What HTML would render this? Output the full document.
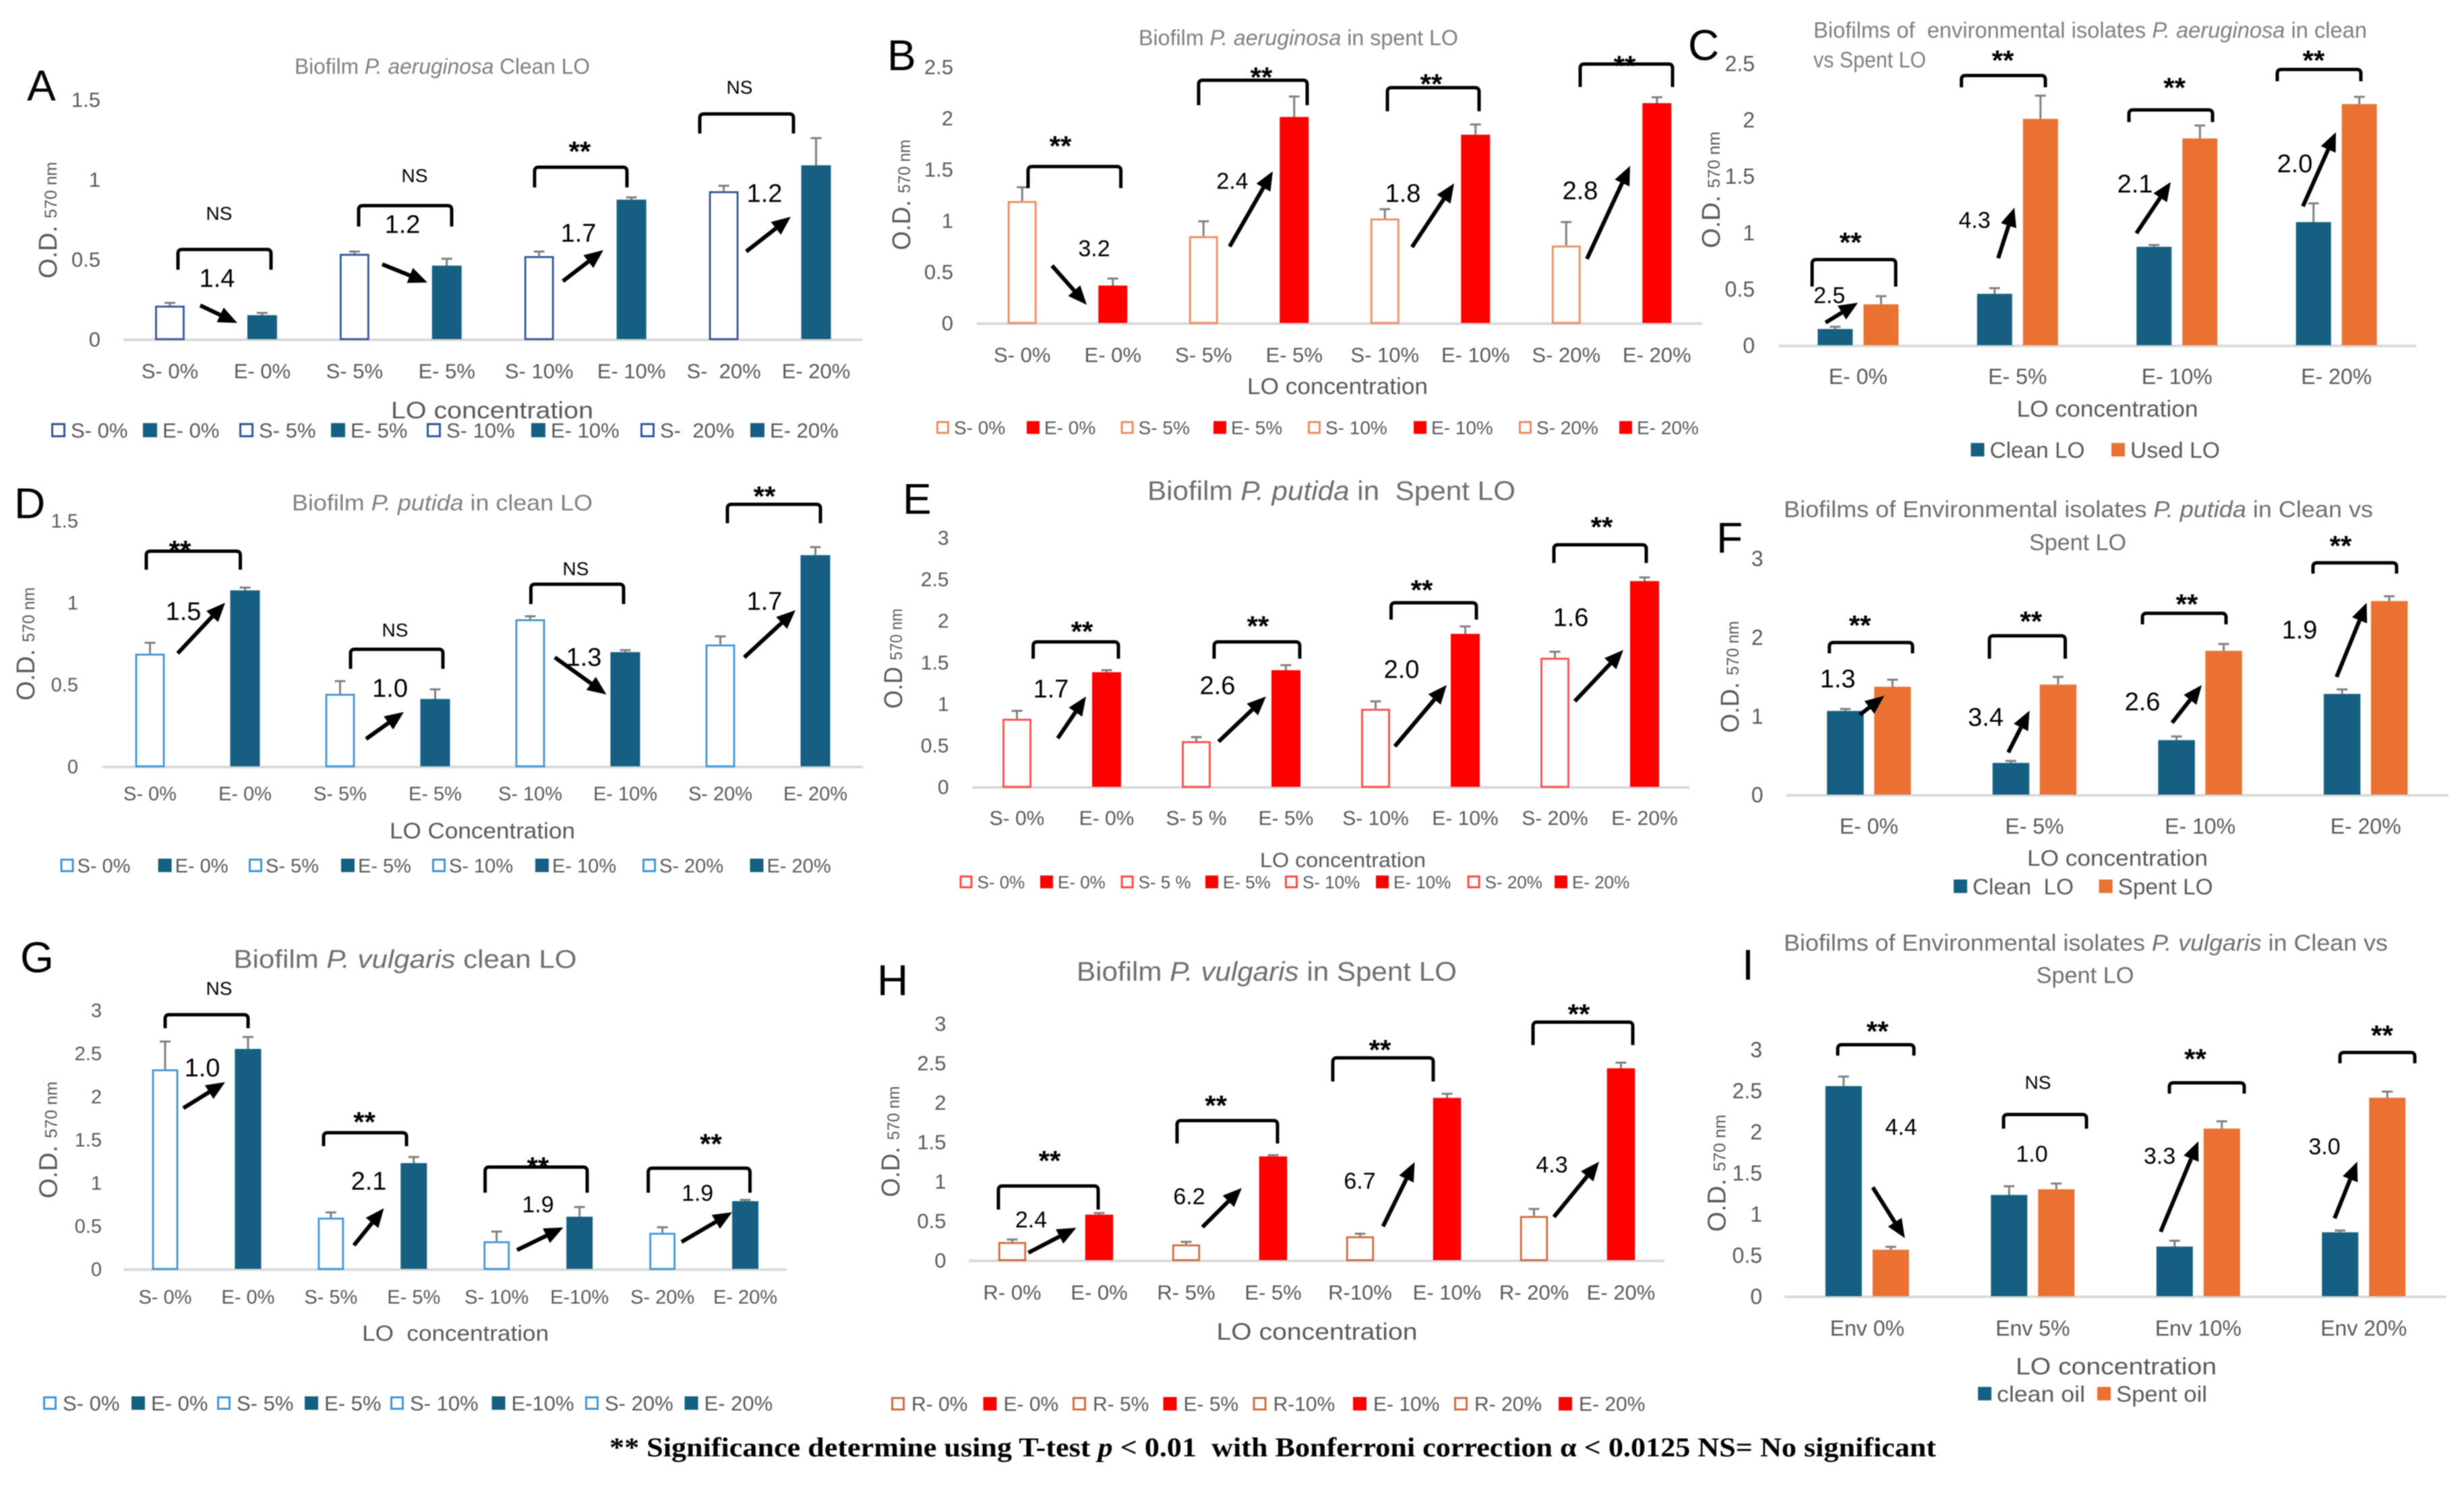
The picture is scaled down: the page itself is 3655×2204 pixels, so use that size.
<!DOCTYPE html>
<html lang="en">
<head>
<meta charset="utf-8">
<title>Biofilm formation in clean and spent lubricating oil</title>
<style>
html,body{margin:0;padding:0;background:#fff;}
#figure{display:block;width:3655px;height:2204px;background:#fff;filter:blur(.8px);}
text{font-family:"Liberation Sans",sans-serif;white-space:pre;}
</style>
</head>
<body>
<svg id="figure" xmlns="http://www.w3.org/2000/svg" width="3655" height="2204" viewBox="0 0 3655 2204">
<text x="2872" y="2160" text-anchor="end" textLength="1968" lengthAdjust="spacingAndGlyphs" font-size="40" font-weight="bold" fill="#000" style="font-family:'Liberation Serif',serif">** Significance determine using T-test <tspan font-style="italic">p</tspan> &lt; 0.01  with Bonferroni correction α &lt; 0.0125 NS= No significant</text>
</svg>
<script>
/* ---------- chart data ---------- */
const panelATicks = [0, 0.5, 1, 1.5];
const panelACategories = ["S- 0%", "E- 0%", "S- 5%", "E- 5%", "S- 10%", "E- 10%", "S-  20%", "E- 20%"];
const panelAValues = [0.21, 0.15, 0.534, 0.46, 0.52, 0.873, 0.926, 1.088];
const panelAErrors = [0.017, 0.014, 0.014, 0.043, 0.028, 0.014, 0.034, 0.17];

const panelBTicks = [0, 0.5, 1, 1.5, 2, 2.5];
const panelBCategories = ["S- 0%", "E- 0%", "S- 5%", "E- 5%", "S- 10%", "E- 10%", "S- 20%", "E- 20%"];
const panelBValues = [1.19, 0.365, 0.847, 2.01, 1.02, 1.837, 0.756, 2.145];
const panelBErrors = [0.134, 0.068, 0.145, 0.2, 0.09, 0.1, 0.228, 0.057];

const panelCTicks = [0, 0.5, 1, 1.5, 2, 2.5];
const panelCCategories = ["E- 0%", "E- 5%", "E- 10%", "E- 20%"];
const panelCSeriesNames = ["Clean LO", "Used LO"];
const panelCClean = [0.144, 0.456, 0.873, 1.092];
const panelCCleanErrors = [0.02, 0.05, 0.016, 0.166];
const panelCUsed = [0.363, 2.008, 1.834, 2.139];
const panelCUsedErrors = [0.072, 0.206, 0.115, 0.064];

const panelDTicks = [0, 0.5, 1, 1.5];
const panelDCategories = ["S- 0%", "E- 0%", "S- 5%", "E- 5%", "S- 10%", "E- 10%", "S- 20%", "E- 20%"];
const panelDValues = [0.688, 1.074, 0.443, 0.411, 0.898, 0.697, 0.744, 1.289];
const panelDErrors = [0.066, 0.017, 0.077, 0.059, 0.018, 0.012, 0.049, 0.049];

const panelETicks = [0, 0.5, 1, 1.5, 2, 2.5, 3];
const panelECategories = ["S- 0%", "E- 0%", "S- 5 %", "E- 5%", "S- 10%", "E- 10%", "S- 20%", "E- 20%"];
const panelEValues = [0.819, 1.379, 0.55, 1.403, 0.939, 1.84, 1.553, 2.475];
const panelEErrors = [0.095, 0.024, 0.048, 0.061, 0.089, 0.089, 0.072, 0.044];

const panelFTicks = [0, 1, 2, 3];
const panelFCategories = ["E- 0%", "E- 5%", "E- 10%", "E- 20%"];
const panelFSeriesNames = ["Clean  LO", "Spent LO"];
const panelFClean = [1.063, 0.403, 0.692, 1.279];
const panelFCleanErrors = [0.025, 0.025, 0.047, 0.058];
const panelFSpent = [1.37, 1.398, 1.826, 2.458];
const panelFSpentErrors = [0.09, 0.097, 0.087, 0.061];

const panelGTicks = [0, 0.5, 1, 1.5, 2, 2.5, 3];
const panelGCategories = ["S- 0%", "E- 0%", "S- 5%", "E- 5%", "S- 10%", "E-10%", "S- 20%", "E- 20%"];
const panelGValues = [2.313, 2.549, 0.594, 1.226, 0.321, 0.605, 0.419, 0.785];
const panelGErrors = [0.322, 0.138, 0.06, 0.071, 0.112, 0.112, 0.063, 0.015];

const panelHTicks = [0, 0.5, 1, 1.5, 2, 2.5, 3];
const panelHCategories = ["R- 0%", "E- 0%", "R- 5%", "E- 5%", "R-10%", "E- 10%", "R- 20%", "E- 20%"];
const panelHValues = [0.23, 0.577, 0.2, 1.315, 0.303, 2.057, 0.56, 2.432];
const panelHErrors = [0.032, 0.02, 0.032, 0.016, 0.032, 0.052, 0.089, 0.072];

const panelITicks = [0, 0.5, 1, 1.5, 2, 2.5, 3];
const panelICategories = ["Env 0%", "Env 5%", "Env 10%", "Env 20%"];
const panelISeriesNames = ["clean oil", "Spent oil"];
const panelIClean = [2.555, 1.231, 0.604, 0.777];
const panelICleanErrors = [0.115, 0.106, 0.07, 0.022];
const panelISpent = [0.565, 1.3, 2.038, 2.413];
const panelISpentErrors = [0.035, 0.07, 0.088, 0.075];

/* ---------- helpers ---------- */
const NS = "http://www.w3.org/2000/svg";
const root = document.getElementById("figure");

function make(parent, tag, name, attrs) {
  const el = document.createElementNS(NS, tag);
  
  
  for (const k in attrs) el.setAttribute(k, attrs[k]);
  parent.appendChild(el);
  return el;
}
/* y is the vertical centre of the capitals */
function label(parent, name, x, y, str, size, opts) {
  const o = opts || {};
  const a = {x: x, y: y + size * 0.358, "font-size": size, fill: o.fill || "#595959", "text-anchor": o.anchor || "middle"};
  if (o.weight) a["font-weight"] = o.weight;
  if (o.width) { a.textLength = o.width; a.lengthAdjust = "spacingAndGlyphs"; }
  const el = make(parent, "text", name, a);
  el.textContent = str;
  return el;
}
function richTitle(parent, name, x, y, parts, size, width, fill, anchor) {
  const el = make(parent, "text", name, {x: x, y: y + size * 0.358, "font-size": size, fill: fill || "#6e6e6e", "text-anchor": anchor || "start", textLength: width, lengthAdjust: "spacingAndGlyphs"});
  parts.forEach(function (p, i) {
    const t = document.createElementNS(NS, "tspan");
    if (i % 2 === 1) t.setAttribute("font-style", "italic");
    t.textContent = p;
    el.appendChild(t);
  });
  return el;
}
function panelLetter(parent, x, baseline, letter) {
  const el = make(parent, "text", "panel-letter-" + letter.toLowerCase(), {x: x, y: baseline, "font-size": 64, fill: "#000"});
  el.textContent = letter;
}
function yAxisTitle(parent, cx, bottom, top, main) {
  const el = make(parent, "text", "y-axis-title", {transform: "translate(" + (cx + 14) + "," + bottom + ") rotate(-90)", "font-size": 38, fill: "#595959", textLength: bottom - top, lengthAdjust: "spacingAndGlyphs"});
  const a = document.createElementNS(NS, "tspan");
  a.textContent = main + " ";
  const b = document.createElementNS(NS, "tspan");
  b.setAttribute("font-size", "25");
  b.textContent = "570 nm";
  el.appendChild(a);
  el.appendChild(b);
}
function bracket(parent, x1, x2, top, bottom) {
  const r = 6;
  make(parent, "path", "significance-bracket", {d: "M" + x1 + " " + bottom + "V" + (top + r) + "Q" + x1 + " " + top + " " + (x1 + r) + " " + top + "H" + (x2 - r) + "Q" + x2 + " " + top + " " + x2 + " " + (top + r) + "V" + bottom, fill: "none", stroke: "#000", "stroke-width": 5});
}
function stars(parent, x, y) {
  const el = make(parent, "text", "significance-stars", {x: x, y: y + 24, "font-size": 42, "font-weight": "bold", fill: "#000", "text-anchor": "middle"});
  el.textContent = "**";
}
function nonSig(parent, x, y) {
  label(parent, "not-significant-label", x, y, "NS", 28, {fill: "#000"});
}
function fold(parent, x, y, str, size) {
  label(parent, "fold-change-label", x, y, str, size || 38, {fill: "#000"});
}
function arrow(parent, x1, y1, x2, y2) {
  const dx = x2 - x1, dy = y2 - y1, len = Math.hypot(dx, dy), ux = dx / len, uy = dy / len;
  const bx = x2 - ux * 28, by = y2 - uy * 28;
  make(parent, "line", "fold-change-arrow", {x1: x1, y1: y1, x2: bx, y2: by, stroke: "#000", "stroke-width": 6});
  const pts = x2 + "," + y2 + " " + (bx - uy * 12) + "," + (by + ux * 12) + " " + (bx + uy * 12) + "," + (by - ux * 12);
  make(parent, "polygon", "fold-change-arrowhead", {points: pts, fill: "#000"});
}

/* axis functions */
function yScale(cfg, v) { return cfg.base - v * cfg.unit; }
function bandCenter(cfg, i, n) { return cfg.x0 + (i + 0.5) * (cfg.x1 - cfg.x0) / n; }

function drawBar(parent, cfg, cx, w, v, e, style) {
  const top = yScale(cfg, v), errTop = yScale(cfg, v + e);
  make(parent, "line", "error-bar", {x1: cx, x2: cx, y1: top, y2: errTop, stroke: "#7f7f7f", "stroke-width": 3});
  make(parent, "line", "error-bar-cap", {x1: cx - 8, x2: cx + 8, y1: errTop, y2: errTop, stroke: "#7f7f7f", "stroke-width": 3});
  if (style.outline) {
    make(parent, "rect", "bar-outline", {x: cx - w / 2 + 1.5, y: top + 1.5, width: w - 3, height: cfg.base - top - 1.5, fill: "#fff", stroke: style.outline, "stroke-width": 2.8});
  } else {
    make(parent, "rect", "bar-filled", {x: cx - w / 2, y: top, width: w, height: cfg.base - top, fill: style.fill});
  }
}
function drawAxes(parent, cfg, ticks) {
  ticks.forEach(function (t) {
    label(parent, "y-tick-label", cfg.tickX, yScale(cfg, t), String(t), cfg.tickFont, {anchor: "end"});
  });
  make(parent, "line", "x-axis-line", {x1: cfg.x0, x2: cfg.x1, y1: cfg.base + 1, y2: cfg.base + 1, stroke: "#d9d9d9", "stroke-width": 4});
}
/* eight bars: open (control) and filled (environmental) alternate */
function drawAlternating(parent, cfg, categories, values, errors, ticks, openColor, fillColor) {
  drawAxes(parent, cfg, ticks);
  values.forEach(function (v, i) {
    const cx = bandCenter(cfg, i, values.length);
    drawBar(parent, cfg, cx, cfg.barW, v, errors[i], i % 2 === 0 ? {outline: openColor} : {fill: fillColor});
    label(parent, "x-tick-label", cx, cfg.xLabelY, categories[i], cfg.tickFont);
  });
  cfg.legendX.forEach(function (x, i) {
    const s = cfg.swatch;
    if (i % 2 === 0) {
      make(parent, "rect", "legend-swatch-open", {x: x + 1.5, y: cfg.legendY - s / 2 + 1.5, width: s - 3, height: s - 3, fill: "#fff", stroke: openColor, "stroke-width": 3});
    } else {
      make(parent, "rect", "legend-swatch-filled", {x: x, y: cfg.legendY - s / 2, width: s, height: s, fill: fillColor});
    }
    label(parent, "legend-entry", x + cfg.legendOffset, cfg.legendY, categories[i], cfg.legendFont, {anchor: "start"});
  });
}
/* four groups of two filled bars */
function drawPaired(parent, cfg, categories, seriesNames, first, firstErr, second, secondErr, ticks) {
  drawAxes(parent, cfg, ticks);
  categories.forEach(function (c, i) {
    const cx = bandCenter(cfg, i, categories.length), off = (cfg.barW + cfg.gap) / 2;
    drawBar(parent, cfg, cx - off, cfg.barW, first[i], firstErr[i], {fill: "#156082"});
    drawBar(parent, cfg, cx + off, cfg.barW, second[i], secondErr[i], {fill: "#e97132"});
    label(parent, "x-tick-label", cx, cfg.xLabelY, c, cfg.tickFont);
  });
  const colors = ["#156082", "#e97132"];
  cfg.legendX.forEach(function (x, i) {
    make(parent, "rect", "legend-swatch", {x: x, y: cfg.legendY - 10, width: 20, height: 20, fill: colors[i]});
    label(parent, "legend-entry", x + 28, cfg.legendY, seriesNames[i], cfg.legendFont, {anchor: "start", width: cfg.legendW[i]});
  });
}

const NAVY = "#2f5597", TEAL = "#156082", RED = "#ff0000", ORANGEOPEN = "#f08a5d", BLUEOPEN = "#3f95d6", REDOPEN = "#ff4a4a", RUST = "#cf6a3c";

/* ---------- panel A ---------- */
const gA = make(root, "g", "panel-a-clean-aeruginosa", {});
drawAlternating(gA, {x0: 183.5, x1: 1279, base: 503, unit: 237, tickX: 149, tickFont: 31, barW: 44, xLabelY: 550, legendY: 638, swatch: 21, legendFont: 31, legendOffset: 29, legendX: [76, 212, 355, 491, 633, 788, 950, 1113]}, panelACategories, panelAValues, panelAErrors, panelATicks, NAVY, TEAL);
panelLetter(gA, 40, 149, "A");
richTitle(gA, "chart-title", 437, 98, ["Biofilm ", "P. aeruginosa", " Clean LO"], 32, 438, "#7f7f7f");
yAxisTitle(gA, 70, 413, 240, "O.D.");
label(gA, "x-axis-title", 730, 608, "LO concentration", 35, {width: 300});
bracket(gA, 264, 402, 370, 400); nonSig(gA, 325, 316); fold(gA, 322, 412, "1.4"); arrow(gA, 297, 453, 352, 479);
bracket(gA, 532, 670, 305, 336); nonSig(gA, 615, 260); fold(gA, 597, 332, "1.2"); arrow(gA, 567, 392, 634, 419);
bracket(gA, 793, 930, 248, 278); stars(gA, 860, 215); fold(gA, 858, 345, "1.7"); arrow(gA, 835, 417, 895, 371);
bracket(gA, 1038, 1177, 169, 198); nonSig(gA, 1097, 129); fold(gA, 1134, 286, "1.2"); arrow(gA, 1107, 373, 1173, 321.5);

/* ---------- panel B ---------- */
const gB = make(root, "g", "panel-b-spent-aeruginosa", {});
drawAlternating(gB, {x0: 1449, x1: 2525, base: 479, unit: 152, tickX: 1414, tickFont: 31, barW: 43, xLabelY: 526, legendY: 634, swatch: 19, legendFont: 28, legendOffset: 26, legendX: [1389, 1523, 1662.6, 1800, 1940, 2097, 2253, 2402]}, panelBCategories, panelBValues, panelBErrors, panelBTicks, ORANGEOPEN, RED);
panelLetter(gB, 1316, 104, "B");
richTitle(gB, "chart-title", 1689, 55.5, ["Biofilm ", "P. aeruginosa", " in spent LO"], 32, 474, "#7f7f7f");
yAxisTitle(gB, 1336, 371, 207, "O.D.");
label(gB, "x-axis-title", 1984, 572.5, "LO concentration", 34, {width: 268});
bracket(gB, 1525, 1662.6, 247, 279); stars(gB, 1573, 207); fold(gB, 1623, 368, "3.2", 34); arrow(gB, 1560.5, 394, 1612, 452);
bracket(gB, 1778, 1939, 119, 156); stars(gB, 1871, 105); fold(gB, 1828, 268, "2.4", 34); arrow(gB, 1824, 365.6, 1888, 254);
bracket(gB, 2058, 2194, 130, 165); stars(gB, 2123, 115); fold(gB, 2081, 286, "1.8"); arrow(gB, 2094.5, 366.5, 2157, 272);
bracket(gB, 2344, 2481, 95, 129); stars(gB, 2410, 88); fold(gB, 2344, 282, "2.8"); arrow(gB, 2354, 384, 2418, 246);

/* ---------- panel C ---------- */
const gC = make(root, "g", "panel-c-environmental-aeruginosa", {});
drawPaired(gC, {x0: 2638, x1: 3584, base: 512, unit: 167.2, tickX: 2603, tickFont: 32, barW: 52, gap: 16, xLabelY: 558, legendY: 667, legendFont: 33, legendW: [141, 133], legendX: [2923.5, 3132]}, panelCCategories, panelCSeriesNames, panelCClean, panelCCleanErrors, panelCUsed, panelCUsedErrors, panelCTicks);
panelLetter(gC, 2504, 89, "C");
richTitle(gC, "chart-title-line-1", 2690, 44, ["Biofilms of  environmental isolates ", "P. aeruginosa", " in clean"], 33, 821, "#7f7f7f");
richTitle(gC, "chart-title-line-2", 2690, 88, ["vs Spent LO"], 33, 167, "#7f7f7f");
yAxisTitle(gC, 2537, 368, 195, "O.D.");
label(gC, "x-axis-title", 3126, 606, "LO concentration", 34, {width: 269});
bracket(gC, 2688, 2812, 385, 425); stars(gC, 2745, 350); fold(gC, 2713.6, 437.5, "2.5", 34); arrow(gC, 2708, 478.5, 2756, 449);
bracket(gC, 2909.5, 3034, 112, 129.5); stars(gC, 2971, 80); fold(gC, 2929, 326, "4.3", 34); arrow(gC, 2964, 383, 2988, 308);
bracket(gC, 3158, 3282, 163, 181); stars(gC, 3225.6, 120.5); fold(gC, 3167, 272, "2.1"); arrow(gC, 3169, 346, 3220, 270);
bracket(gC, 3378, 3502, 103, 120.5); stars(gC, 3432, 80); fold(gC, 3404, 242, "2.0"); arrow(gC, 3416, 306, 3465, 196);

/* ---------- panel D ---------- */
const gD = make(root, "g", "panel-d-clean-putida", {});
drawAlternating(gD, {x0: 152, x1: 1280, base: 1136.6, unit: 243, tickX: 116, tickFont: 29, barW: 44, xLabelY: 1176.6, legendY: 1283.5, swatch: 20, legendFont: 29, legendOffset: 25, legendX: [89.5, 234.6, 369, 506, 641, 794, 953, 1112.5]}, panelDCategories, panelDValues, panelDErrors, panelDTicks, BLUEOPEN, TEAL);
panelLetter(gD, 21, 768.5, "D");
richTitle(gD, "chart-title", 433, 745, ["Biofilm ", "P. putida", " in clean LO"], 33, 446, "#7f7f7f");
yAxisTitle(gD, 37, 1039, 871, "O.D.");
label(gD, "x-axis-title", 715.5, 1231.6, "LO Concentration", 33, {width: 275});
bracket(gD, 217, 356.5, 817.5, 845); stars(gD, 267, 807); fold(gD, 272, 906, "1.5"); arrow(gD, 263.6, 969, 334, 894);
bracket(gD, 520, 657, 963, 992); nonSig(gD, 586, 934); fold(gD, 578.6, 1020, "1.0"); arrow(gD, 543, 1096, 599, 1056);
bracket(gD, 787.5, 925, 866.5, 896); nonSig(gD, 854, 843); fold(gD, 866, 974, "1.3"); arrow(gD, 823, 975, 899.5, 1030);
bracket(gD, 1079, 1217, 748, 776); stars(gD, 1134, 726.5); fold(gD, 1134, 891, "1.7"); arrow(gD, 1104, 975, 1180, 905);

/* ---------- panel E ---------- */
const gE = make(root, "g", "panel-e-spent-putida", {});
drawAlternating(gE, {x0: 1442, x1: 2506, base: 1167, unit: 123.3, tickX: 1407.5, tickFont: 30, barW: 43, xLabelY: 1213, legendY: 1308, swatch: 19, legendFont: 26, legendOffset: 26, legendX: [1423.5, 1543, 1662.6, 1788, 1906, 2041, 2176.6, 2306]}, panelECategories, panelEValues, panelEErrors, panelETicks, REDOPEN, RED);
panelLetter(gE, 1339, 762, "E");
richTitle(gE, "chart-title", 1702, 727, ["Biofilm ", "P. putida", " in  Spent LO"], 40, 546);
yAxisTitle(gE, 1324, 1051, 902.6, "O.D");
label(gE, "x-axis-title", 1992, 1275, "LO concentration", 31, {width: 246});
bracket(gE, 1532.6, 1659, 952, 977); stars(gE, 1605, 927); fold(gE, 1559, 1021, "1.7"); arrow(gE, 1569, 1095, 1611, 1033);
bracket(gE, 1801, 1928, 952, 977); stars(gE, 1866, 919); fold(gE, 1806, 1016, "2.6"); arrow(gE, 1807.6, 1100, 1878, 1033);
bracket(gE, 2063.5, 2190, 894, 919); stars(gE, 2109, 865.5); fold(gE, 2079, 992, "2.0"); arrow(gE, 2069, 1107, 2146, 1016);
bracket(gE, 2305, 2442, 808, 835); stars(gE, 2376, 772); fold(gE, 2330, 915, "1.6"); arrow(gE, 2336, 1040, 2408, 964);

/* ---------- panel F ---------- */
const gF = make(root, "g", "panel-f-environmental-putida", {});
drawPaired(gF, {x0: 2649.5, x1: 3632, base: 1178.6, unit: 116.8, tickX: 2615.6, tickFont: 32, barW: 54.5, gap: 15.5, xLabelY: 1225, legendY: 1314.5, legendFont: 33, legendW: [150, 141], legendX: [2898, 3113.6]}, panelFCategories, panelFSeriesNames, panelFClean, panelFCleanErrors, panelFSpent, panelFSpentErrors, panelFTicks);
panelLetter(gF, 2546, 820, "F");
richTitle(gF, "chart-title-line-1", 2646, 755, ["Biofilms of Environmental isolates ", "P. putida", " in Clean vs"], 34, 874);
richTitle(gF, "chart-title-line-2", 3010, 804, ["Spent LO"], 34, 144);
yAxisTitle(gF, 2565, 1087, 921, "O.D.");
label(gF, "x-axis-title", 3141, 1272, "LO concentration", 33, {width: 268});
bracket(gF, 2713.6, 2837, 953, 969); stars(gF, 2759, 918); fold(gF, 2726, 1006, "1.3"); arrow(gF, 2759, 1060, 2795, 1032);
bracket(gF, 2951, 3063.5, 943, 977); stars(gF, 3012.7, 912); fold(gF, 2945.6, 1063, "3.4"); arrow(gF, 2979, 1116, 3010.5, 1054);
bracket(gF, 3178, 3302, 909.6, 926); stars(gF, 3244, 886.5); fold(gF, 3178, 1040, "2.6"); arrow(gF, 3222, 1072, 3266, 1016);
bracket(gF, 3431, 3555, 834.7, 850.7); stars(gF, 3472, 800); fold(gF, 3411, 933.6, "1.9"); arrow(gF, 3466, 1004, 3510.6, 894);

/* ---------- panel G ---------- */
const gG = make(root, "g", "panel-g-clean-vulgaris", {});
drawAlternating(gG, {x0: 183.5, x1: 1167, base: 1882, unit: 128, tickX: 151, tickFont: 29, barW: 39, xLabelY: 1923, legendY: 2081, swatch: 20, legendFont: 31, legendOffset: 29, legendX: [64, 195, 322, 452, 579, 729.5, 868, 1015.5]}, panelGCategories, panelGValues, panelGErrors, panelGTicks, BLUEOPEN, TEAL);
panelLetter(gG, 30, 1442, "G");
richTitle(gG, "chart-title", 346.5, 1421.7, ["Biofilm ", "P. vulgaris", " clean LO"], 38, 509);
yAxisTitle(gG, 70.5, 1777.5, 1604, "O.D.");
label(gG, "x-axis-title", 675.6, 1977, "LO  concentration", 32, {width: 277});
bracket(gG, 245, 368, 1505, 1525); nonSig(gG, 325, 1465.7); fold(gG, 300, 1583, "1.0"); arrow(gG, 272, 1643.6, 334, 1605);
bracket(gG, 480, 603, 1680, 1700); stars(gG, 540.5, 1654.6); fold(gG, 547, 1751, "2.1"); arrow(gG, 525, 1847, 569.5, 1792);
bracket(gG, 719.6, 871, 1731, 1769); stars(gG, 798, 1721.5); fold(gG, 798, 1786, "1.9", 34); arrow(gG, 767, 1854, 835.6, 1820.5);
bracket(gG, 961.6, 1112.5, 1732.6, 1769); stars(gG, 1054.5, 1687); fold(gG, 1034.6, 1769, "1.9", 34); arrow(gG, 1011, 1842, 1086, 1798);

/* ---------- panel H ---------- */
const gH = make(root, "g", "panel-h-spent-vulgaris", {});
drawAlternating(gH, {x0: 1437, x1: 2469, base: 1869, unit: 117, tickX: 1403.5, tickFont: 31, barW: 41.5, xLabelY: 1916.5, legendY: 2082, swatch: 20, legendFont: 30, legendOffset: 30, legendX: [1322, 1458.5, 1591, 1725.5, 1858.6, 2007, 2157, 2312]}, panelHCategories, panelHValues, panelHErrors, panelHTicks, RUST, RED);
panelLetter(gH, 1301, 1476, "H");
richTitle(gH, "chart-title", 1597, 1440, ["Biofilm ", "P. vulgaris", " in Spent LO"], 40, 564);
yAxisTitle(gH, 1320, 1775.5, 1611, "O.D.");
label(gH, "x-axis-title", 1953.5, 1974.6, "LO concentration", 35, {width: 298});
bracket(gH, 1481, 1629, 1759, 1794); stars(gH, 1557, 1712); fold(gH, 1529.5, 1808.5, "2.4", 34); arrow(gH, 1525.5, 1858, 1596.5, 1821);
bracket(gH, 1746, 1895, 1662, 1696); stars(gH, 1803.6, 1630); fold(gH, 1764, 1774, "6.2", 34); arrow(gH, 1783.7, 1820, 1842, 1762);
bracket(gH, 1977, 2126, 1569, 1604); stars(gH, 2047, 1547.5); fold(gH, 2017, 1751, "6.7", 34); arrow(gH, 2051.5, 1819, 2098.5, 1723.5);
bracket(gH, 2274, 2422, 1516, 1550); stars(gH, 2342, 1494.7); fold(gH, 2302, 1727, "4.3", 34); arrow(gH, 2305, 1805, 2372, 1723);

/* ---------- panel I ---------- */
const gI = make(root, "g", "panel-i-environmental-vulgaris", {});
drawPaired(gI, {x0: 2647, x1: 3629, base: 1922.5, unit: 122, tickX: 2614, tickFont: 32, barW: 54, gap: 16, xLabelY: 1969.5, legendY: 2067, legendFont: 33, legendW: [131, 135], legendX: [2934, 3111]}, panelICategories, panelISeriesNames, panelIClean, panelICleanErrors, panelISpent, panelISpentErrors, panelITicks);
panelLetter(gI, 2584, 1453, "I");
richTitle(gI, "chart-title-line-1", 2646, 1397.7, ["Biofilms of Environmental isolates ", "P. vulgaris", " in Clean vs"], 34, 896);
richTitle(gI, "chart-title-line-2", 3020.5, 1446, ["Spent LO"], 34, 145);
yAxisTitle(gI, 2545.7, 1827, 1653, "O.D.");
label(gI, "x-axis-title", 3139, 2026, "LO concentration", 35, {width: 298});
bracket(gI, 2726, 2839, 1549.5, 1565.6); stars(gI, 2785, 1520); fold(gI, 2820, 1671, "4.4", 34); arrow(gI, 2778, 1761, 2825.6, 1836.4);
bracket(gI, 2972, 3095, 1653, 1674); nonSig(gI, 3023, 1605); fold(gI, 3014, 1711, "1.0", 34);
bracket(gI, 3218, 3329, 1606, 1622); stars(gI, 3256.5, 1561); fold(gI, 3203.5, 1713.7, "3.3", 34); arrow(gI, 3205, 1827, 3261, 1692.7);
bracket(gI, 3471, 3582, 1561, 1577); stars(gI, 3533.5, 1526); fold(gI, 3448, 1700, "3.0", 34); arrow(gI, 3463, 1807, 3496.6, 1723);
</script>
</body>
</html>
